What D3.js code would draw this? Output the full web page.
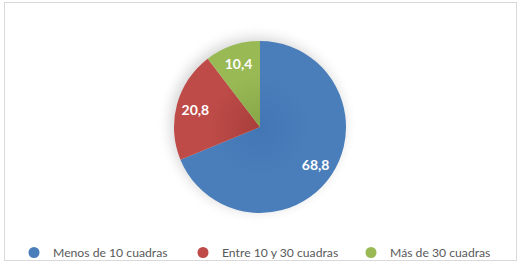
<!DOCTYPE html>
<html><head><meta charset="utf-8">
<script src="https://cdn.jsdelivr.net/npm/d3@7"></script>
<style>body{margin:0;background:#fff;}svg{display:block;}</style>
</head><body>
<svg id="c" width="522" height="273"></svg>
<script>
const categories = ["Menos de 10 cuadras", "Entre 10 y 30 cuadras", "Más de 30 cuadras"];
const values = [68.8, 20.8, 10.4];
const labels = ["68,8", "20,8", "10,4"];
const colors = ["#4a7ebb", "#be4b48", "#98b954"];
const darkColors = ["#4376b4", "#a83e3b", "#86a648"];

const svg = d3.select("#c");
const defs = svg.append("defs");
const f = defs.append("filter").attr("id","sh").attr("x","-30%").attr("y","-30%").attr("width","160%").attr("height","160%");
f.append("feGaussianBlur").attr("in","SourceAlpha").attr("stdDeviation",7);
f.append("feOffset").attr("dx",-3).attr("dy",-3).attr("result","b");
f.append("feComponentTransfer").append("feFuncA").attr("type","linear").attr("slope",0.18);

colors.forEach((c,i)=>{
  const g = defs.append("radialGradient").attr("id","g"+i).attr("gradientUnits","userSpaceOnUse")
    .attr("cx",0).attr("cy",0).attr("r",86);
  g.append("stop").attr("offset","0%").attr("stop-color",darkColors[i]);
  g.append("stop").attr("offset","60%").attr("stop-color",c);
  g.append("stop").attr("offset","100%").attr("stop-color",c);
});

svg.append("rect").attr("x",4.5).attr("y",2.5).attr("width",512).attr("height",258)
  .attr("fill","#fff").attr("stroke","#d9d9d9").attr("stroke-width",1);

const cx = 260, cy = 127, R = 86;
const pie = d3.pie().sort(null).value(d=>d)(values);
const arc = d3.arc().innerRadius(0).outerRadius(R);
const g = svg.append("g").attr("transform",`translate(${cx},${cy})`);
g.append("circle").attr("r",R).attr("fill","#000").attr("filter","url(#sh)");
g.selectAll("path.s").data(pie).join("path").attr("class","s")
  .attr("d",arc).attr("fill",(d,i)=>`url(#g${i})`);
const la = d3.arc().innerRadius(67).outerRadius(67);
g.selectAll("text.l").data(pie).join("text").attr("class","l")
  .attr("transform",d=>`translate(${la.centroid(d)})`)
  .attr("text-anchor","middle").attr("dominant-baseline","central")
  .attr("fill","#fff").attr("font-family","Lato, 'Open Sans', sans-serif")
  .attr("font-weight","bold").attr("font-size",14)
  .text((d,i)=>labels[i]);

const legX = [34, 203, 371];
const lg = svg.append("g");
categories.forEach((c,i)=>{
  lg.append("circle").attr("cx",legX[i]).attr("cy",252.5).attr("r",5.5).attr("fill",colors[i]);
  lg.append("text").attr("x",legX[i]+19).attr("y",252.5).attr("dominant-baseline","central")
    .attr("fill","#595959").attr("font-family","Lato, 'Open Sans', sans-serif").attr("font-size",12.2)
    .text(c);
});
</script>
</body></html>
